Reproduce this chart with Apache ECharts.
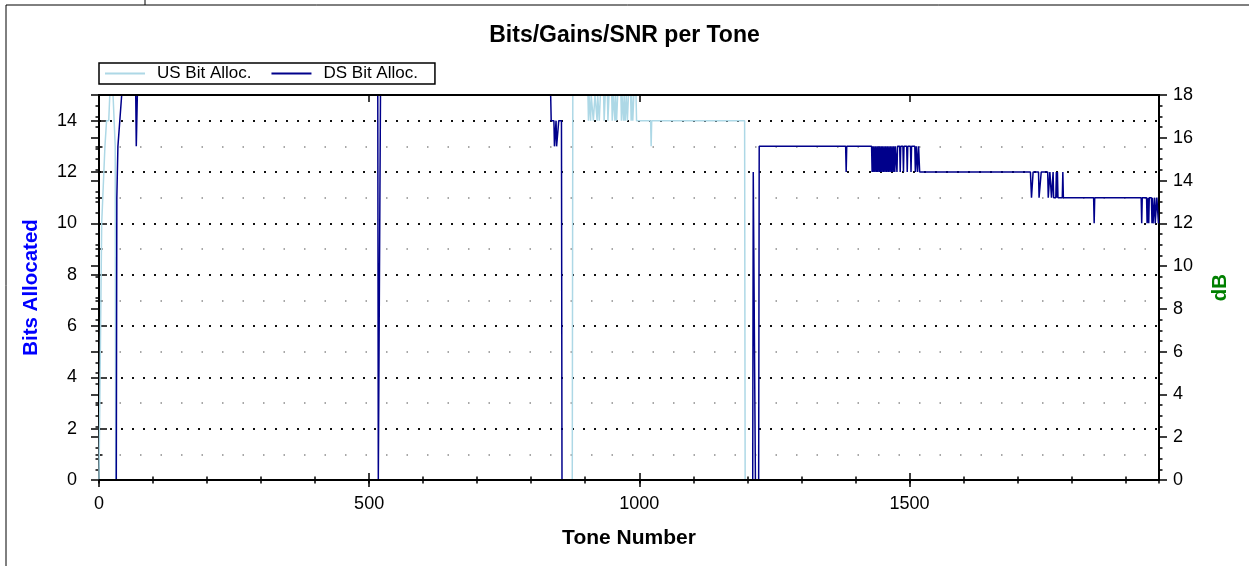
<!DOCTYPE html>
<html>
<head>
<meta charset="utf-8">
<script src="https://cdn.jsdelivr.net/npm/echarts@6/dist/echarts.min.js"></script>
<style>
html, body { margin: 0; padding: 0; background: #fff; }
#chart { width: 1249px; height: 566px; }
</style>
</head>
<body>
<div id="chart"></div>
<script>
// [tone, bits] change points
const usPoints = [
    [0, 0], [2, 0], [5, 10], [11, 13], [14, 14], [18, 14], [20, 15], [26, 15], [30, 13], [31, 0],
    [876, 0], [877, 15], [905, 15], [906, 14], [907, 15], [909, 15], [910, 14], [911, 15], [914, 15],
    [915, 14], [917, 14], [918, 15], [921, 15], [922, 14], [923, 15], [926, 14], [928, 15], [934, 15],
    [935, 14], [937, 15], [941, 15], [942, 14], [943, 14], [944, 15], [949, 15], [950, 14], [952, 15],
    [954, 15], [955, 14], [956, 15], [958, 14], [960, 15], [966, 15], [967, 14], [968, 15], [971, 14],
    [972, 15], [974, 14], [976, 15], [978, 14], [980, 15], [984, 15], [985, 14], [986, 15], [988, 14],
    [990, 15], [994, 15], [995, 14],
    [1021, 14], [1022, 13], [1023, 14], [1195, 14], [1196, 0], [1962, 0]
];
const dsPoints = [
    [0, 0], [32, 0], [33, 11], [34, 11], [35, 13], [37, 13], [42, 15], [68, 15], [69, 13], [70, 13], [71, 15],
    [516, 15], [517, 0], [520, 0], [521, 15],
    [836, 15], [837, 14], [842, 14], [843, 13], [845, 13], [846, 14], [847, 13], [850, 13], [851, 14],
    [856, 14], [857, 0],
    [1210, 0], [1211, 12], [1214, 12], [1215, 0], [1221, 0], [1222, 13],
    [1382, 13], [1383, 12], [1384, 13],
    [1430, 13], [1431, 12], [1432, 13], [1433, 12], [1434, 13], [1436, 12], [1437, 13], [1439, 12],
    [1440, 13], [1441, 12], [1442, 13], [1444, 12], [1445, 13], [1446, 12], [1448, 13], [1449, 12],
    [1450, 13], [1452, 12], [1453, 13], [1455, 12], [1456, 13], [1458, 12], [1459, 13], [1461, 12],
    [1462, 13], [1464, 12], [1465, 13], [1467, 12], [1468, 13], [1470, 12], [1471, 13], [1473, 12],
    [1474, 13], [1477, 12], [1478, 13], [1482, 13], [1483, 12], [1484, 13], [1488, 13], [1489, 12],
    [1490, 13], [1495, 13], [1496, 12], [1497, 13], [1502, 13], [1503, 12], [1504, 13], [1510, 13],
    [1511, 12], [1513, 13], [1515, 12], [1517, 13], [1519, 12],
    [1724, 12], [1726, 11], [1728, 11], [1729, 12], [1739, 12], [1740, 11], [1743, 11], [1744, 12],
    [1756, 12], [1757, 11], [1759, 11], [1760, 12], [1762, 12], [1763, 11], [1765, 11], [1766, 12],
    [1767, 11], [1771, 11], [1772, 12], [1773, 11], [1774, 12], [1775, 11], [1783, 11], [1784, 12], [1785, 11],
    [1841, 11], [1842, 10], [1843, 11],
    [1929, 11], [1930, 10], [1931, 11], [1939, 11], [1940, 10], [1941, 10], [1942, 11], [1943, 10],
    [1944, 11], [1948, 11], [1949, 10], [1950, 11], [1951, 10], [1953, 10], [1954, 11], [1955, 10],
    [1957, 10], [1958, 11], [1960, 11], [1961, 10], [1962, 10]
];
const seriesNames = ['US Bit Alloc.', 'DS Bit Alloc.'];
const xMax = 1962;
const bitsMax = 15;
const dbMax = 18;

const FONT = 'Liberation Sans, Arial, sans-serif';
const chart = echarts.init(document.getElementById('chart'));

const rect = { left: 99, top: 95, width: 1060, height: 385 };
const tickStyle = { color: '#000', width: 1.5 };

// axes that only draw ticks (used to get ticks crossing the frame)
function tickAxis(gridIndex, position, max, interval, length, inside) {
    return {
        type: 'value', gridIndex, position, min: 0, max, interval,
        axisLine: { show: false },
        axisTick: { show: true, inside, length, lineStyle: tickStyle },
        axisLabel: { show: false },
        splitLine: { show: false }
    };
}
function hiddenAxis(gridIndex, max) {
    return { type: 'value', gridIndex, show: false, min: 0, max };
}

chart.setOption({
    backgroundColor: '#fff',
    animation: false,
    title: {
        text: 'Bits/Gains/SNR per Tone',
        left: 'center',
        top: 19,
        textStyle: { fontFamily: FONT, fontSize: 23, fontWeight: 'bold', color: '#000' }
    },
    legend: {
        data: seriesNames,
        left: 99,
        top: 63,
        padding: [2, 17, 2, 6],
        itemGap: 20,
        itemWidth: 40,
        itemHeight: 2,
        icon: 'rect',
        borderColor: '#000',
        borderWidth: 1.5,
        borderRadius: 0,
        textStyle: { fontFamily: FONT, fontSize: 17, lineHeight: 17, color: '#000', padding: [0, 0, 0, 7] }
    },
    graphic: [
        { type: 'line', shape: { x1: 6, y1: 5, x2: 6, y2: 566 }, style: { stroke: '#000', lineWidth: 1 } },
        { type: 'line', shape: { x1: 6, y1: 5, x2: 1249, y2: 5 }, style: { stroke: '#000', lineWidth: 1 } },
        { type: 'line', shape: { x1: 145, y1: 0, x2: 145, y2: 5 }, style: { stroke: '#000', lineWidth: 1 } }
    ],
    grid: [rect, rect, rect, rect],
    xAxis: [
        {
            type: 'value', gridIndex: 0, position: 'bottom', min: 0, max: xMax, interval: 500, z: 10,
            name: 'Tone Number', nameLocation: 'middle', nameGap: 48,
            nameTextStyle: { fontFamily: FONT, fontSize: 21, fontWeight: 'bold', color: '#000' },
            axisLine: { show: true, onZero: false, lineStyle: { color: '#000', width: 2 } },
            axisTick: { show: true, length: 7, lineStyle: tickStyle },
            axisLabel: {
                fontFamily: FONT, fontSize: 18, color: '#000', margin: 15, showMaxLabel: false,
                formatter: v => String(v)
            },
            splitLine: { show: false }
        },
        {
            type: 'value', gridIndex: 0, position: 'top', min: 0, max: xMax, interval: 500, z: 10,
            axisLine: { show: true, onZero: false, lineStyle: { color: '#000', width: 2 } },
            axisTick: { show: true, inside: true, length: 7, lineStyle: tickStyle },
            axisLabel: { show: false },
            splitLine: { show: false }
        },
        tickAxis(1, 'bottom', xMax, 500, 7, true),
        tickAxis(1, 'top', xMax, 100, 3.5, true),
        tickAxis(2, 'bottom', xMax, 100, 3.5, false),
        hiddenAxis(2, xMax),
        tickAxis(3, 'bottom', xMax, 100, 3.5, true),
        hiddenAxis(3, xMax)
    ],
    yAxis: [
        {
            type: 'value', gridIndex: 0, position: 'left', min: 0, max: bitsMax, interval: 2,
            name: 'Bits Allocated', nameLocation: 'middle', nameGap: 57,
            nameTextStyle: { fontFamily: FONT, fontSize: 20.5, fontWeight: 'bold', color: '#0000FF' },
            axisLine: { show: true, onZero: false, lineStyle: { color: '#000', width: 2 } },
            axisTick: { show: true, length: 8, lineStyle: tickStyle },
            axisLabel: { fontFamily: FONT, fontSize: 18, color: '#000', margin: 22, showMaxLabel: false },
            splitLine: { show: true, lineStyle: { color: '#111', width: 2, type: [2, 9] } }
        },
        {
            type: 'value', gridIndex: 0, position: 'right', min: 0, max: dbMax, interval: 2,
            name: 'dB', nameLocation: 'middle', nameGap: 51,
            nameTextStyle: { fontFamily: FONT, fontSize: 20.5, fontWeight: 'bold', color: '#008000' },
            axisLine: { show: true, onZero: false, lineStyle: { color: '#000', width: 2 } },
            axisTick: { show: true, length: 8, lineStyle: tickStyle },
            minorTick: { show: true, splitNumber: 4, length: 3.5, lineStyle: tickStyle },
            axisLabel: { fontFamily: FONT, fontSize: 18, color: '#000', margin: 14 },
            splitLine: { show: false }
        },
        tickAxis(1, 'left', bitsMax, 2, 8, true),
        Object.assign(tickAxis(1, 'right', dbMax, 2, 8, true), {
            minorTick: { show: true, splitNumber: 4, length: 3.5, lineStyle: tickStyle }
        }),
        Object.assign(tickAxis(2, 'left', bitsMax, 1, 3.5, false), {
            splitLine: { show: true, lineStyle: { color: ['rgba(0,0,0,0)', '#8a8a8a'], width: 1.5, type: [1.5, 19] } }
        }),
        hiddenAxis(2, dbMax),
        tickAxis(3, 'left', bitsMax, 1, 3.5, true),
        hiddenAxis(3, dbMax)
    ],
    series: [
        {
            name: seriesNames[0],
            type: 'line',
            xAxisIndex: 0,
            yAxisIndex: 0,
            data: usPoints,
            showSymbol: false,
            itemStyle: { color: '#ADD8E6' },
            lineStyle: { color: '#ADD8E6', width: 1.5 }
        },
        {
            name: seriesNames[1],
            type: 'line',
            xAxisIndex: 0,
            yAxisIndex: 0,
            data: dsPoints,
            showSymbol: false,
            itemStyle: { color: '#00008B' },
            lineStyle: { color: '#00008B', width: 1.5 }
        }
    ]
});
</script>
</body>
</html>
